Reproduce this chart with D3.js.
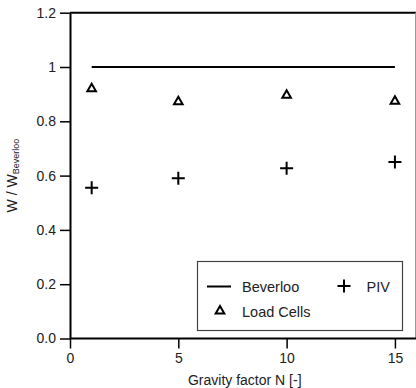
<!DOCTYPE html>
<html>
<head>
<meta charset="utf-8">
<script src="https://cdn.jsdelivr.net/npm/d3@7"></script>
<style>
  body { margin: 0; background: #fff; }
  text { font-family: "Liberation Sans", Arial, sans-serif; fill: #222; }
</style>
</head>
<body>
<div id="chart"></div>
<script>
// Data
const gravityN = [1, 5, 10, 15];
const loadCells = [0.92, 0.872, 0.896, 0.874];
const piv = [0.555, 0.59, 0.627, 0.65];
const beverloo = [1, 1, 1, 1];
const yTicks = [0, 0.2, 0.4, 0.6, 0.8, 1, 1.2];
const yTickLabels = ['0.0', '0.2', '0.4', '0.6', '0.8', '1', '1.2'];
const xTicks = [0, 5, 10, 15];

const W = 416, H = 388;
const plotLeft = 70, plotRight = 415.5, plotTop = 12.7, plotBottom = 338.5;

const svg = d3.select('#chart')
    .append('svg')
    .attr('width', W)
    .attr('height', H);

const xScale = d3.scaleLinear().domain([0, 15.95]).range([plotLeft, plotRight]);
const yScale = d3.scaleLinear().domain([0, 1.2]).range([plotBottom, plotTop]);

// frame: top (black) and right (grey)
svg.append('line')
    .attr('x1', plotLeft).attr('x2', W)
    .attr('y1', plotTop).attr('y2', plotTop)
    .attr('stroke', '#000').attr('stroke-width', 2);
svg.append('line')
    .attr('x1', plotRight).attr('x2', plotRight)
    .attr('y1', plotTop).attr('y2', plotBottom)
    .attr('stroke', '#999').attr('stroke-width', 1);

// axes
const xAxis = d3.axisBottom(xScale)
    .tickValues(xTicks)
    .tickSize(10)
    .tickPadding(5)
    .tickSizeOuter(0);
const yAxis = d3.axisLeft(yScale)
    .tickValues(yTicks)
    .tickFormat((d, i) => yTickLabels[i])
    .tickSize(10)
    .tickPadding(4)
    .tickSizeOuter(0);

const gx = svg.append('g')
    .attr('transform', `translate(0,${plotBottom})`)
    .call(xAxis);
const gy = svg.append('g')
    .attr('transform', `translate(${plotLeft},0)`)
    .call(yAxis);

[gx, gy].forEach(g => {
    g.select('.domain').attr('stroke', '#000').attr('stroke-width', 2);
    g.selectAll('.tick line').attr('stroke', '#000').attr('stroke-width', 1.5);
    g.selectAll('.tick text')
        .style('font-family', '"Liberation Sans", Arial, sans-serif')
        .style('font-size', '14px')
        .attr('fill', '#222');
});
gx.select('.domain').attr('d', `M${plotLeft},0H${W}`);

// axis titles
svg.append('text')
    .attr('x', (plotLeft + plotRight) / 2 + 2)
    .attr('y', 385)
    .attr('text-anchor', 'middle')
    .style('font-size', '14px')
    .text('Gravity factor N [-]');

const yl = svg.append('text')
    .attr('transform', `translate(17,${(plotTop + plotBottom) / 2}) rotate(-90)`)
    .attr('text-anchor', 'middle')
    .style('font-size', '14px');
yl.append('tspan').text('W / W');
yl.append('tspan').attr('dy', 2).style('font-size', '9px').text('Beverloo');

// Beverloo line
svg.append('path')
    .datum(gravityN.map((n, i) => [n, beverloo[i]]))
    .attr('fill', 'none')
    .attr('stroke', '#000')
    .attr('stroke-width', 2)
    .attr('d', d3.line().x(d => xScale(d[0])).y(d => yScale(d[1])));

// Load cells triangles
const tri = d3.symbol().type(d3.symbolTriangle).size(32);
svg.selectAll('.lc')
    .data(gravityN.map((n, i) => [n, loadCells[i]]))
    .enter()
    .append('path')
    .attr('class', 'lc')
    .attr('transform', d => `translate(${xScale(d[0])},${yScale(d[1])})`)
    .attr('d', tri)
    .attr('fill', 'none')
    .attr('stroke', '#000')
    .attr('stroke-width', 2);

// PIV crosses
const plus = s => `M${-s},0H${s}M0,${-s}V${s}`;
svg.selectAll('.piv')
    .data(gravityN.map((n, i) => [n, piv[i]]))
    .enter()
    .append('path')
    .attr('class', 'piv')
    .attr('transform', d => `translate(${xScale(d[0])},${yScale(d[1])})`)
    .attr('d', plus(6.5))
    .attr('fill', 'none')
    .attr('stroke', '#000')
    .attr('stroke-width', 2);

// Legend
const lg = svg.append('g');
lg.append('rect')
    .attr('x', 197.5).attr('y', 261.5)
    .attr('width', 205).attr('height', 69)
    .attr('fill', '#fff')
    .attr('stroke', '#444')
    .attr('stroke-width', 1.2);
lg.append('line')
    .attr('x1', 207).attr('x2', 231)
    .attr('y1', 286.5).attr('y2', 286.5)
    .attr('stroke', '#000').attr('stroke-width', 2);
lg.append('text').attr('x', 242).attr('y', 292).style('font-size', '14.5px').text('Beverloo');
lg.append('path')
    .attr('transform', 'translate(220,311)')
    .attr('d', tri)
    .attr('fill', 'none').attr('stroke', '#000').attr('stroke-width', 2);
lg.append('text').attr('x', 242).attr('y', 316.5).style('font-size', '14.5px').text('Load Cells');
lg.append('path')
    .attr('transform', 'translate(344,286)')
    .attr('d', plus(6.5))
    .attr('fill', 'none').attr('stroke', '#000').attr('stroke-width', 2);
lg.append('text').attr('x', 366.5).attr('y', 292).style('font-size', '14.5px').text('PIV');
</script>
</body>
</html>
